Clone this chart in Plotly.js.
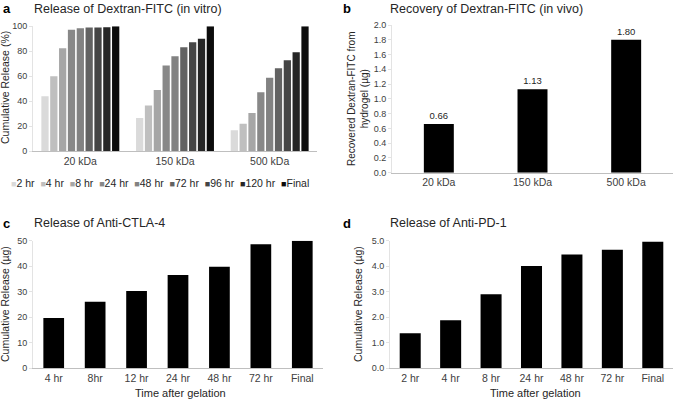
<!DOCTYPE html>
<html>
<head>
<meta charset="utf-8">
<script src="https://cdn.plot.ly/plotly-3.0.1.min.js"></script>
<style>html,body{margin:0;padding:0;background:#fff;}#chart{width:677px;height:402px;}</style>
</head>
<body>
<div id="chart"></div>
<script>
// ---- Panel a data ----
var sizesA = ['20 kDa', '150 kDa', '500 kDa'];
var timesA = ['2 hr', '4 hr', '8 hr', '24 hr', '48 hr', '72 hr', '96 hr', '120 hr', 'Final'];
var release20 = [44, 60, 82.4, 97.3, 98.4, 99, 99, 99.3, 100];
var release150 = [26.7, 36.6, 49, 68.6, 76, 83.3, 87.2, 90.1, 100];
var release500 = [16.8, 22.1, 30.7, 47.2, 58.9, 66.4, 72.8, 79.2, 100];
var greysA = ['#dadada', '#bfbfbf', '#a6a6a6', '#888888', '#828282', '#626262', '#454545', '#262626', '#0c0c0c'];

// ---- Panel b data ----
var sizesB = ['20 kDa', '150 kDa', '500 kDa'];
var recoveredB = [0.66, 1.13, 1.80];

// ---- Panel c data ----
var timesC = ['4 hr', '8hr', '12 hr', '24 hr', '48 hr', '72 hr', 'Final'];
var ctla4 = [19.7, 26.1, 30.3, 36.6, 39.8, 48.6, 50];

// ---- Panel d data ----
var timesD = ['2 hr', '4 hr', '8 hr', '24 hr', '48 hr', '72 hr', 'Final'];
var pd1 = [1.37, 1.88, 2.90, 4.01, 4.46, 4.65, 4.96];

var W = 677, H = 402;
function px(x) { return x / W; }
function py(y) { return 1 - y / H; }

var FONT = 'Liberation Sans, Arial, sans-serif';
var TICKC = '#404040';

var traces = [];
for (var i = 0; i < timesA.length; i++) {
  traces.push({
    type: 'bar', name: timesA[i], x: sizesA,
    y: [release20[i], release150[i], release500[i]],
    marker: {color: greysA[i]}, xaxis: 'x', yaxis: 'y', showlegend: false,
    hoverinfo: 'x+y+name'
  });
}
traces.push({
  type: 'bar', x: sizesB, y: recoveredB, xaxis: 'x2', yaxis: 'y2',
  marker: {color: '#000000'}, width: 0.32, showlegend: false,
  text: recoveredB.map(function (v) { return v.toFixed(2); }),
  textposition: 'outside', cliponaxis: false, constraintext: 'none',
  textfont: {family: FONT, size: 9.5, color: '#262626'}
});
traces.push({
  type: 'bar', x: timesC, y: ctla4, xaxis: 'x3', yaxis: 'y3',
  marker: {color: '#000000'}, width: 0.5, showlegend: false
});
traces.push({
  type: 'bar', x: timesD, y: pd1, xaxis: 'x4', yaxis: 'y4',
  marker: {color: '#000000'}, width: 0.52, showlegend: false
});

function xax(dom, anchor) {
  return {domain: dom, anchor: anchor, showline: true, linecolor: '#bfbfbf', linewidth: 1,
    ticks: '', showgrid: false, zeroline: false, fixedrange: true,
    tickfont: {family: FONT, size: 10.5, color: TICKC}};
}
function yax(dom, anchor, range, dtick, fmt) {
  return {domain: dom, anchor: anchor, range: range, dtick: dtick, tickformat: fmt,
    showline: true, linecolor: '#e3e3e3', ticks: 'outside', ticklen: 3, tickcolor: '#e3e3e3',
    showgrid: false, zeroline: false, fixedrange: true,
    tickfont: {family: FONT, size: 9, color: TICKC}};
}

// legend for panel a as annotation built from arrays
var legendParts = [];
for (var j = 0; j < timesA.length; j++) {
  legendParts.push('<span style="color:' + greysA[j] + ';font-size:9px">\u25A0</span>' + timesA[j]);
}

var ann = [];
function addText(text, x, y, opts) {
  var a = {text: text, x: px(x), y: py(y), xref: 'paper', yref: 'paper', showarrow: false,
    xanchor: 'left', yanchor: 'middle', font: {family: FONT, size: 12.5, color: '#262626'}};
  for (var k in opts) a[k] = opts[k];
  ann.push(a);
}
// panel letters
addText('<b>a</b>', 1, 9, {font: {family: FONT, size: 13, color: '#000'}});
addText('<b>b</b>', 341, 9, {font: {family: FONT, size: 13, color: '#000'}});
addText('<b>c</b>', 1, 223, {font: {family: FONT, size: 13, color: '#000'}});
addText('<b>d</b>', 341, 223, {font: {family: FONT, size: 13, color: '#000'}});
// titles
addText('Release of Dextran-FITC (in vitro)', 32, 9, {});
addText('Recovery of Dextran-FITC (in vivo)', 388, 9, {});
addText('Release of Anti-CTLA-4', 32, 223, {});
addText('Release of Anti-PD-1', 388, 223, {});
// y titles
var ytf = {family: FONT, size: 10.5, color: '#262626'};
addText('Cumulative Release (%)', 5, 88, {textangle: -90, xanchor: 'center', font: ytf});
addText('Recovered Dextran-FITC from<br>hydrogel (\u00b5g)', 358, 99, {textangle: -90, xanchor: 'center', font: {family: FONT, size: 10, color: '#262626'}});
addText('Cumulative Release (\u00b5g)', 5, 304, {textangle: -90, xanchor: 'center', font: ytf});
addText('Cumulative Release (\u00b5g)', 358, 304, {textangle: -90, xanchor: 'center', font: ytf});
// x titles
addText('Time after gelation', 180, 393, {xanchor: 'center', font: {family: FONT, size: 11, color: '#262626'}});
addText('Time after gelation', 535, 393, {xanchor: 'center', font: {family: FONT, size: 11, color: '#262626'}});
// legend
addText(legendParts.join('&nbsp; '), 9, 183, {font: {family: FONT, size: 10.5, color: '#262626'}});

var layout = {
  width: W, height: H, margin: {l: 0, r: 0, t: 0, b: 0},
  paper_bgcolor: '#ffffff', plot_bgcolor: '#ffffff',
  barmode: 'group', bargap: 0.16, bargroupgap: 0.18,
  showlegend: false,
  font: {family: FONT},
  xaxis: xax([px(33), px(317)], 'y'),
  yaxis: yax([py(151.3), py(26.3)], 'x', [0, 100], 20, 'd'),
  xaxis2: xax([px(392), px(673)], 'y2'),
  yaxis2: yax([py(172.7), py(25)], 'x2', [0, 2], 0.2, '.1f'),
  xaxis3: xax([px(33), px(323)], 'y3'),
  yaxis3: yax([py(368.3), py(240.7)], 'x3', [0, 50], 10, 'd'),
  xaxis4: xax([px(390), px(673)], 'y4'),
  yaxis4: yax([py(368.3), py(240.7)], 'x4', [0, 5], 1, '.1f'),
  annotations: ann
};

Plotly.newPlot('chart', traces, layout, {displayModeBar: false, staticPlot: true});
</script>
</body>
</html>
